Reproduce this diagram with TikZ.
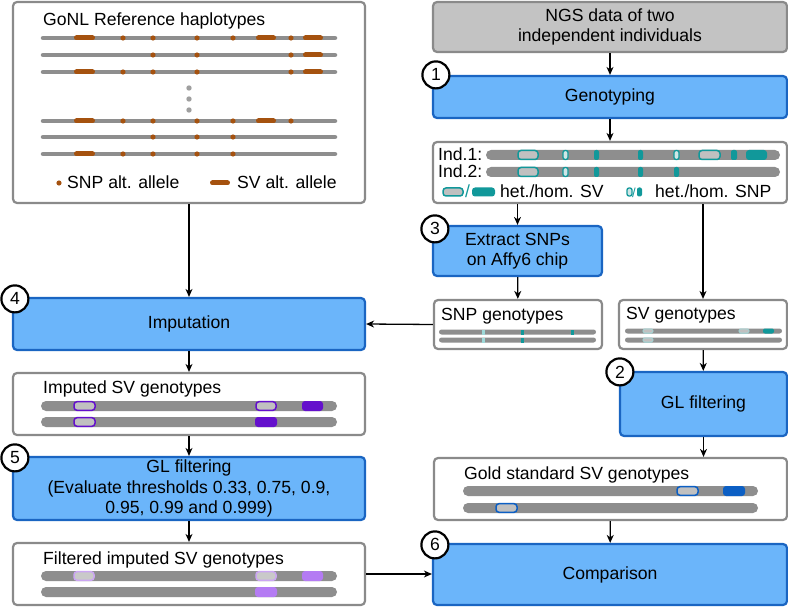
\documentclass[tikz,border=0pt]{standalone}
\usepackage{fontspec}
\setmainfont{Liberation Sans}
\usetikzlibrary{positioning, arrows.meta, calc}

\definecolor{boxgray}{HTML}{8A8A8A}
\definecolor{ngsgray}{HTML}{C3C3C3}
\definecolor{stepblue}{HTML}{6BB5FA}
\definecolor{stepborder}{HTML}{1A65C2}
\definecolor{bargray}{HTML}{8E8E8E}
\definecolor{hetgray}{HTML}{C0C0C0}
\definecolor{snporange}{HTML}{A5520F}
\definecolor{snpteal}{HTML}{11989A}
\definecolor{hetteal}{HTML}{CFE6E6}
\definecolor{lightteal}{HTML}{9ED8D8}
\definecolor{impurple}{HTML}{6410CC}
\definecolor{lightpurple}{HTML}{B47BF3}
\definecolor{palepurple}{HTML}{CBA6F2}
\definecolor{goldblue}{HTML}{0C5FC4}

\begin{document}
\begin{tikzpicture}[x=1pt, y=-1pt,
    font=\fontsize{17.6}{20.5}\selectfont,
    box/.style={draw=boxgray, line width=2.2pt, rounded corners=4pt, fill=white, inner sep=0pt},
    ngsbox/.style={box, fill=ngsgray, align=center},
    stepbox/.style={box, draw=stepborder, fill=stepblue, align=center},
    numcircle/.style={circle, draw, line width=2.2pt, fill=white, minimum size=27pt, inner sep=0pt},
    title/.style={anchor=base west, inner sep=0pt},
    arrow/.style={-{Stealth[length=8pt,width=7pt,inset=2.5pt]}, line width=1.3pt},
    hap/.style={line width=4.5pt, line cap=round, draw=bargray},
    svalt/.style={line width=5pt, line cap=round, draw=snporange},
    snpdot/.style={fill=snporange},
    bar/.style={fill=bargray, rounded corners=5pt},
    thinbar/.style={fill=bargray, rounded corners=2.5pt},
    tealhet/.style={draw=snpteal, fill=hetgray, line width=1.5pt, rounded corners=3pt},
    tealhom/.style={fill=snpteal, rounded corners=3pt},
    tealsnphet/.style={draw=snpteal, fill=hetteal, line width=1.3pt, rounded corners=2pt},
    tealsnphom/.style={fill=snpteal, rounded corners=2pt},
    purphet/.style={draw=impurple, fill=hetgray, line width=1.5pt, rounded corners=3pt},
    purphom/.style={fill=impurple, rounded corners=3pt},
    palehet/.style={draw=palepurple, fill=hetgray!85, line width=1.5pt, rounded corners=3pt},
    palehom/.style={fill=lightpurple, rounded corners=3pt},
    goldhet/.style={draw=goldblue, fill=hetgray, line width=1.5pt, rounded corners=3pt},
    goldhom/.style={fill=goldblue, rounded corners=3pt},
]
\useasboundingbox (0,0) rectangle (788,607);

% Boxes, left column
\node[box, minimum width=352pt, minimum height=201pt] (gonl) at (189,102.5) {};
\node[stepbox, minimum width=352pt, minimum height=52pt] (imput) at (189,324) {Imputation};
\node[box, minimum width=352pt, minimum height=62pt] (imputed) at (189,404) {};
\node[stepbox, minimum width=352pt, minimum height=63pt] (glfive) at (189,488.5) {GL filtering\\(Evaluate thresholds 0.33, 0.75, 0.9,\\0.95, 0.99 and 0.999)};
\node[box, minimum width=352pt, minimum height=62pt] (filtered) at (189,574) {};

% Boxes, right column
\node[ngsbox, minimum width=354pt, minimum height=50pt] (ngs) at (610,27) {NGS data of two\\independent individuals};
\node[stepbox, minimum width=354pt, minimum height=42pt] (geno) at (610,97) {Genotyping};
\node[box, minimum width=354pt, minimum height=61pt] (ind) at (610,172.5) {};
\node[stepbox, minimum width=169pt, minimum height=50pt] (extract) at (517.5,251) {Extract SNPs\\on Affy6 chip};
\node[box, minimum width=168pt, minimum height=49pt] (snpg) at (518,324.5) {};
\node[box, minimum width=168pt, minimum height=49pt] (svg) at (703,324.5) {};
\node[stepbox, minimum width=167pt, minimum height=64pt] (glftwo) at (703.5,404) {GL filtering};
\node[box, minimum width=353pt, minimum height=62pt] (gold) at (610.5,489) {};
\node[stepbox, minimum width=354pt, minimum height=61pt] (comp) at (610,574.5) {Comparison};

% Titles
\node[title] (gonltitle) at (43,25.5) {GoNL Reference haplotypes};
\node[title] (imputedtitle) at (43,393) {Imputed SV genotypes};
\node[title] (filteredtitle) at (43,564) {Filtered imputed SV genotypes};
\node[title] (snpgtitle) at (441,320) {SNP genotypes};
\node[title] (svgtitle) at (626,319.5) {SV genotypes};
\node[title] (goldtitle) at (464,479) {Gold standard SV genotypes};

% GoNL haplotypes
\foreach \y/\svs/\snps in {38/{74/95,256/276,303/323}/{123,153,197,233,291},
                           55/{303/323}/{153,197,291},
                           72/{74/95,303/323}/{123,153,197,291},
                           121/{74/95,256/276}/{123,153,197,233,291}} {
  \draw[hap] (43,\y) -- (335,\y);
  \foreach \a/\b in \svs {\draw[svalt] (\a+2.5,\y) -- (\b-2.5,\y);}
  \foreach \x in \snps {\fill[snpdot] (\x,\y) circle (2.6);}
}
\draw[hap] (43,137) -- (335,137);
\foreach \x in {153,197,233} {\fill[snpdot] (\x,137) circle (2.6);}
\draw[hap] (43,154) -- (335,154);
\draw[svalt] (76.5,154) -- (92.5,154);
\foreach \x in {123,153,197,233} {\fill[snpdot] (\x,154) circle (2.6);}
\foreach \y in {88,99,110} {\fill[bargray!85] (189,\y) circle (2.7);}

% GoNL legend
\fill[snpdot] (59,183) circle (2.6);
\node[title] (snplegend) at (67,189) {SNP alt. allele};
\draw[svalt] (212.5,183) -- (227.5,183);
\node[title] (svlegend) at (237,189) {SV alt. allele};

% Genotyped individuals
\node[title] (indone) at (438,161) {Ind.1:};
\node[title] (indtwo) at (438,178) {Ind.2:};
\fill[bar] (486,150) rectangle (780,160);
\fill[bar] (486,167) rectangle (780,177);
\foreach \y in {150,167} {
  \draw[tealhet] (518,\y+0.5) rectangle (538,\y+9.5);
  \draw[tealsnphet] (563,\y+0.5) rectangle (568,\y+9.5);
  \fill[tealsnphom] (594,\y) rectangle (599,\y+10);
  \fill[tealsnphom] (638,\y) rectangle (643,\y+10);
}
\draw[tealsnphet] (674,150.5) rectangle (679,159.5);
\fill[tealsnphom] (674,167) rectangle (679,177);
\draw[tealhet] (699,150.5) rectangle (720,159.5);
\fill[tealsnphom] (731,150) rectangle (737,160);
\fill[tealhom] (746,150) rectangle (767,160);

% Genotype legend
\draw[tealhet] (443,188) rectangle (463,196);
\node[title, text=snpteal] (slashsv) at (465,198) {/};
\fill[tealhom] (472,187.5) rectangle (495,196.5);
\node[title] (svkey) at (500,198) {het./hom. SV};
\draw[tealsnphet] (627,188) rectangle (632,196);
\node[title, text=snpteal, font=\fontsize{13}{15}\selectfont] (slashsnp) at (632,197) {/};
\fill[tealsnphom] (637,187.5) rectangle (642,196.5);
\node[title] (snpkey) at (655,198) {het./hom. SNP};

% SNP genotypes
\fill[thinbar] (439,329.5) rectangle (596,334.5);
\fill[thinbar] (439,337.5) rectangle (596,342.5);
\foreach \y in {329.5,337.5} {
  \fill[lightteal] (482,\y) rectangle (485,\y+5);
  \fill[snpteal] (521,\y) rectangle (524,\y+5);
}
\fill[snpteal] (571,329.5) rectangle (574,334.5);

% SV genotypes
\fill[thinbar] (625,328.5) rectangle (782,333.5);
\fill[thinbar] (625,337.5) rectangle (782,342.5);
\foreach \a/\b/\y in {643/653/328.5, 739/749/328.5, 643/653/337.5} {
  \draw[draw=lightteal, fill=hetgray, line width=0.8pt, rounded corners=1.5pt] (\a,\y+0.4) rectangle (\b,\y+4.6);
}
\fill[snpteal, rounded corners=2pt] (763,328.5) rectangle (774,333.5);

% Imputed SV genotypes
\fill[bar] (41,401) rectangle (337,411);
\fill[bar] (41,417) rectangle (337,427);
\draw[purphet] (74,401.7) rectangle (95,410.3);
\draw[purphet] (256,401.7) rectangle (276,410.3);
\fill[purphom] (302,401) rectangle (323,411);
\draw[purphet] (74,417.7) rectangle (95,426.3);
\fill[purphom] (255,417) rectangle (277,427);

% Filtered imputed SV genotypes
\fill[bar] (41,571) rectangle (337,581);
\fill[bar] (41,587) rectangle (337,597);
\draw[palehet] (74,571.7) rectangle (94,580.3);
\draw[palehet] (256,571.7) rectangle (276,580.3);
\fill[palehom] (302,571) rectangle (323,581);
\fill[palehom] (255,587) rectangle (277,597);

% Gold standard SV genotypes
\fill[bar] (463,486) rectangle (758,496);
\fill[bar] (463,503) rectangle (758,513);
\draw[goldhet] (677,486.7) rectangle (698,495.3);
\fill[goldhom] (723,486) rectangle (745,496);
\draw[goldhet] (496,503.7) rectangle (517,512.3);

% Connections
\draw[arrow] (gonl) -- (imput);
\draw[arrow] (imput) -- (imputed);
\draw[arrow] (imputed) -- (glfive);
\draw[arrow] (glfive) -- (filtered);
\draw[arrow] (ngs) -- (geno);
\draw[arrow] (geno) -- (ind);
\draw[arrow] (ind.south -| extract.north) -- (extract.north);
\draw[arrow] (ind.south -| svg.north) -- (svg.north);
\draw[arrow] (extract) -- (snpg);
\draw[arrow] (snpg.west) -- (imput.east);
\draw[arrow] (svg) -- (glftwo);
\draw[arrow] (glftwo.south) -- (glftwo.south |- gold.north);
\draw[arrow] (gold) -- (comp);
\draw[arrow] (filtered.east) -- (filtered.east -| comp.west);

% Step numbers
\node[numcircle] (nOne) at ($(geno.north west)+(4,0)$) {1};
\node[numcircle] (nTwo) at ($(glftwo.north west)+(1,1)$) {2};
\node[numcircle] (nThree) at ($(extract.north west)+(3,4)$) {3};
\node[numcircle] (nFour) at ($(imput.north west)+(3,2)$) {4};
\node[numcircle] (nFive) at ($(glfive.north west)+(3,2)$) {5};
\node[numcircle] (nSix) at ($(comp.north west)+(3,2)$) {6};

\end{tikzpicture}
\end{document}
